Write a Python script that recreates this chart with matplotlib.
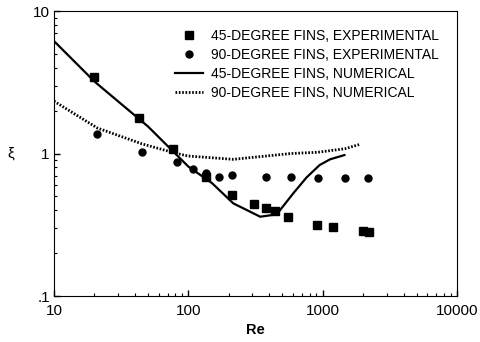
import matplotlib.pyplot as plt
from matplotlib.ticker import FixedLocator, LogLocator, NullFormatter

plt.rcParams['font.family'] = ['Liberation Sans', 'DejaVu Sans']

# 45-degree fins, experimental
re_45_exp = [20, 43, 77, 135, 210, 310, 379, 444, 556, 904, 1200, 1990, 2200]
xi_45_exp = [3.44, 1.77, 1.08, 0.68, 0.51, 0.44, 0.417, 0.395, 0.358, 0.313, 0.305, 0.286, 0.28]

# 90-degree fins, experimental
re_90_exp = [21, 45, 82, 108, 136, 170, 213, 379, 582, 918, 1460, 2170]
xi_90_exp = [1.36, 1.02, 0.875, 0.775, 0.726, 0.68, 0.706, 0.68, 0.68, 0.67, 0.67, 0.67]

# 45-degree fins, numerical
re_45_num = [10, 20, 50, 100, 150, 216, 343, 455, 605, 760, 950, 1135, 1452]
xi_45_num = [6.15, 3.2, 1.55, 0.81, 0.62, 0.447, 0.36, 0.374, 0.526, 0.68, 0.83, 0.91, 0.975]

# 90-degree fins, numerical
re_90_num = [10, 21, 45, 82, 100, 216, 379, 582, 918, 1460, 1897]
xi_90_num = [2.33, 1.51, 1.17, 1.0, 0.96, 0.91, 0.96, 1.0, 1.02, 1.08, 1.16]

fig = plt.figure(figsize=(4.81, 3.42), dpi=100)
ax = fig.add_axes([0.1123, 0.1345, 0.8377, 0.8333])

ax.plot(re_45_exp, xi_45_exp, 's', color='black', markersize=5.5,
        label='45-DEGREE FINS, EXPERIMENTAL')
ax.plot(re_90_exp, xi_90_exp, 'o', color='black', markersize=5,
        label='90-DEGREE FINS, EXPERIMENTAL')
ax.plot(re_45_num, xi_45_num, '-', color='black', linewidth=1.6,
        label='45-DEGREE FINS, NUMERICAL')
ax.plot(re_90_num, xi_90_num, color='black', linewidth=2, linestyle=(0, (0.6, 0.6)),
        label='90-DEGREE FINS, NUMERICAL')

ax.set_xscale('log')
ax.set_yscale('log')
ax.set_xlim(10, 10000)
ax.set_ylim(0.1, 10)

ax.xaxis.set_major_locator(FixedLocator([10, 100, 1000, 10000]))
ax.set_xticklabels(['10', '100', '1000', '10000'])
ax.yaxis.set_major_locator(FixedLocator([0.1, 1, 10]))
ax.set_yticklabels(['.1', '1', '10'])
ax.xaxis.set_minor_locator(LogLocator(base=10, subs=range(2, 10)))
ax.yaxis.set_minor_locator(LogLocator(base=10, subs=range(2, 10)))
ax.xaxis.set_minor_formatter(NullFormatter())
ax.yaxis.set_minor_formatter(NullFormatter())
ax.tick_params(which='both', direction='in', labelsize=11)
ax.tick_params(axis='x', which='major', pad=6)
ax.tick_params(axis='y', which='major', pad=3)
ax.tick_params(which='major', length=4, width=1)
ax.tick_params(which='minor', length=2, width=0.8)

ax.set_xlabel('Re', fontweight='bold', fontsize=10.5, labelpad=3)
ax.set_ylabel('ξ', fontsize=11, rotation=0, labelpad=16, va='center')

ax.legend(loc='upper right', frameon=False, fontsize=10, handlelength=2.0,
          handletextpad=0.6, borderaxespad=0.9, labelspacing=0.35)

fig.savefig('out.png', dpi=100)
